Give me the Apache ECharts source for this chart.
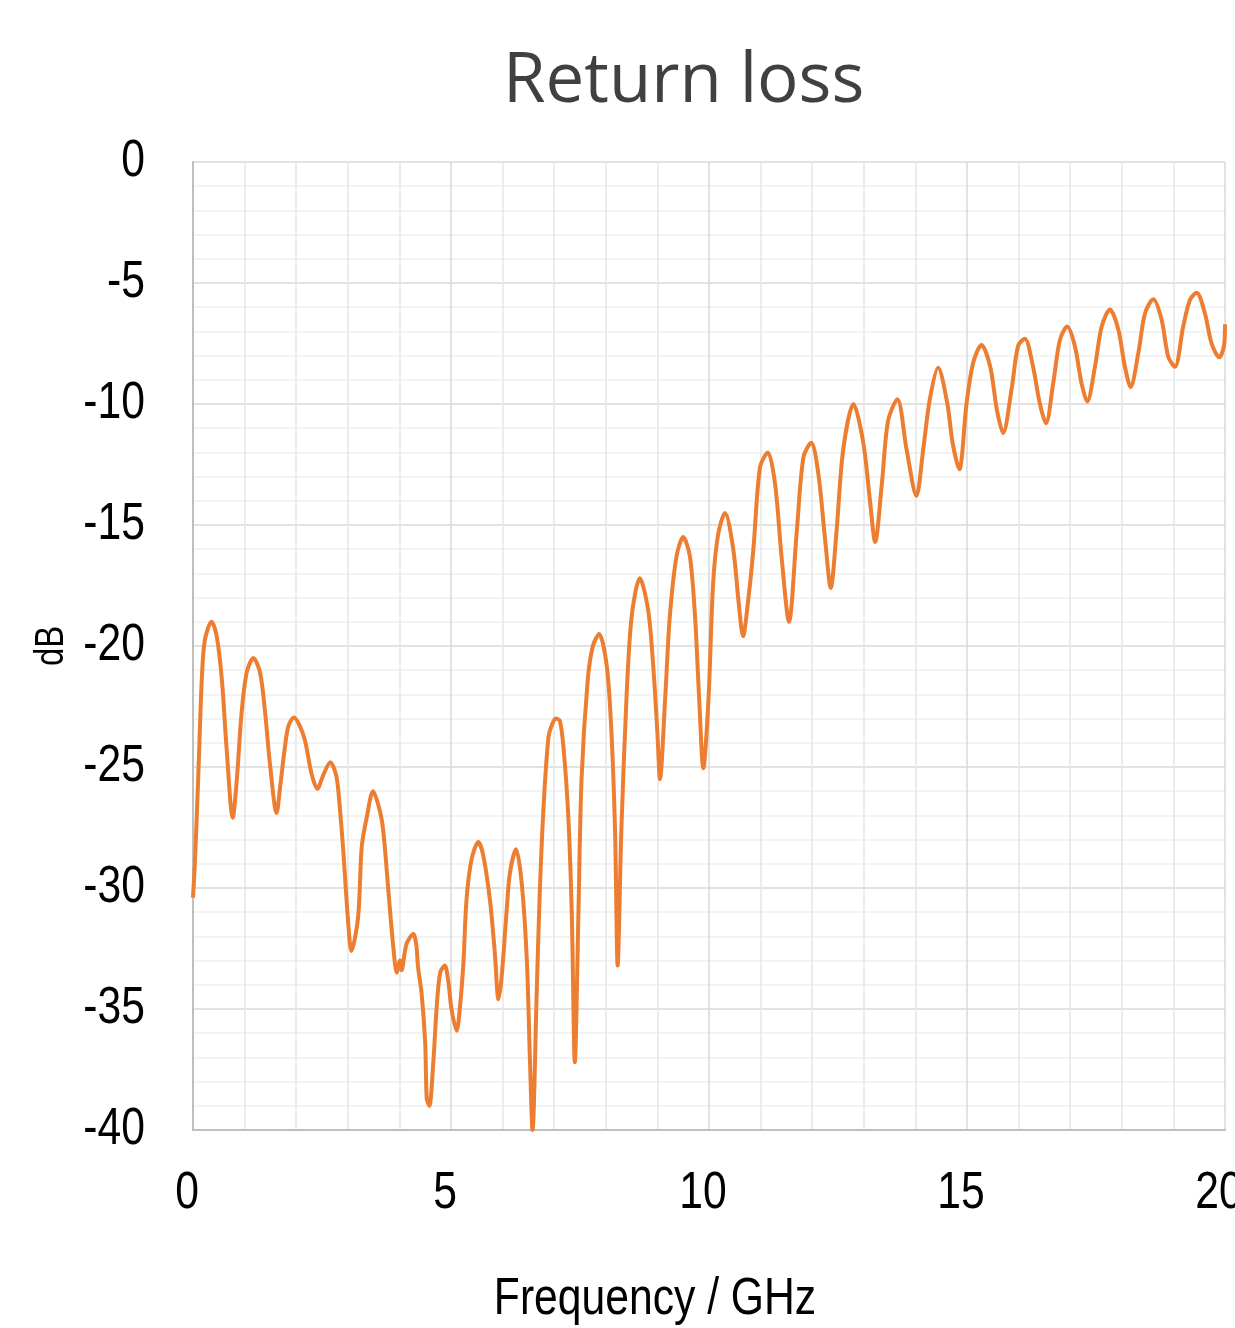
<!DOCTYPE html>
<html>
<head>
<meta charset="utf-8">
<script src="https://cdn.jsdelivr.net/npm/echarts@6/dist/echarts.min.js"></script>
<style>
html,body{margin:0;padding:0;background:#fff;}
#chart{width:1235px;height:1328px;}
</style>
</head>
<body>
<div id="chart"></div>
<script>
// Frequency in GHz
const freq = [
  0.00, 0.04, 0.10, 0.17, 0.23, 0.36, 0.46, 0.56, 0.65, 0.77,
  0.85, 0.94, 1.04, 1.17, 1.30, 1.40, 1.49, 1.62, 1.69, 1.78,
  1.85, 1.96, 2.07, 2.17, 2.30, 2.41, 2.53, 2.66, 2.78, 2.85,
  2.91, 3.01, 3.07, 3.20, 3.27, 3.37, 3.49, 3.62, 3.69, 3.79,
  3.88, 3.95, 4.01, 4.04, 4.14, 4.27, 4.33, 4.36, 4.43, 4.50,
  4.53, 4.58, 4.66, 4.72, 4.79, 4.88, 4.95, 5.01, 5.11, 5.17,
  5.24, 5.30, 5.40, 5.53, 5.63, 5.76, 5.85, 5.92, 5.98, 6.08,
  6.14, 6.26, 6.37, 6.47, 6.53, 6.58, 6.66, 6.72, 6.80, 6.89,
  6.95, 7.03, 7.11, 7.18, 7.27, 7.34, 7.40, 7.47, 7.53, 7.65,
  7.75, 7.87, 8.02, 8.11, 8.18, 8.23, 8.30, 8.40, 8.50, 8.66,
  8.82, 8.92, 9.00, 9.05, 9.15, 9.24, 9.37, 9.50, 9.63, 9.73,
  9.81, 9.89, 9.99, 10.08, 10.18, 10.31, 10.47, 10.57, 10.66, 10.76,
  10.86, 10.99, 11.14, 11.28, 11.41, 11.55, 11.70, 11.83, 11.98, 12.12,
  12.25, 12.36, 12.47, 12.60, 12.80, 12.99, 13.12, 13.22, 13.35, 13.47,
  13.65, 13.83, 14.02, 14.15, 14.28, 14.44, 14.62, 14.72, 14.85, 14.99,
  15.12, 15.28, 15.45, 15.58, 15.70, 15.87, 15.99, 16.12, 16.28, 16.41,
  16.53, 16.67, 16.80, 16.94, 17.09, 17.22, 17.33, 17.48, 17.61, 17.77,
  17.93, 18.06, 18.17, 18.32, 18.45, 18.61, 18.77, 18.90, 19.03, 19.19,
  19.32, 19.45, 19.61, 19.74, 19.89, 19.98, 20.00
];
// Return loss in dB
const returnLoss = [
  -30.4, -28.8, -25.5, -21.4, -19.75, -19.0, -19.6, -21.4, -24.2, -27.1,
  -25.5, -22.8, -21.1, -20.5, -21.1, -22.8, -24.85, -26.9, -25.8, -24.2,
  -23.3, -22.95, -23.3, -23.9, -25.3, -25.9, -25.3, -24.8, -25.4, -26.8,
  -28.4, -31.5, -32.6, -31.2, -28.3, -27.05, -26.0, -26.8, -27.7, -30.2,
  -32.4, -33.5, -33.0, -33.4, -32.3, -31.9, -32.4, -33.25, -34.35, -36.4,
  -38.7, -39.0, -37.1, -35.0, -33.5, -33.2, -33.9, -35.0, -35.9, -35.0,
  -33.1, -30.5, -28.8, -28.1, -28.7, -30.6, -32.7, -34.6, -33.7, -30.9,
  -29.4, -28.4, -29.8, -33.0, -37.1, -40.0, -34.4, -30.2, -26.4, -23.75,
  -23.3, -23.0, -23.1, -24.2, -26.9, -31.0, -37.2, -31.0, -25.5, -21.4,
  -20.0, -19.5, -20.85, -23.6, -27.7, -33.2, -27.7, -22.2, -18.8, -17.2,
  -18.5, -20.85, -23.6, -25.5, -22.2, -18.8, -16.3, -15.5, -16.3, -18.8,
  -22.2, -25.05, -22.2, -17.4, -15.35, -14.5, -16.0, -18.1, -19.6, -18.1,
  -16.0, -12.6, -12.0, -13.3, -16.4, -19.0, -15.3, -12.2, -11.6, -12.9,
  -15.6, -17.6, -15.3, -11.9, -10.0, -11.6, -14.0, -15.7, -13.3, -10.7,
  -9.8, -11.9, -13.8, -11.9, -9.8, -8.5, -10.0, -11.6, -12.7, -10.0,
  -8.3, -7.56, -8.46, -10.25, -11.2, -9.3, -7.6, -7.3, -8.46, -9.97,
  -10.8, -9.15, -7.36, -6.8, -7.6, -9.15, -9.9, -8.46, -6.8, -6.1,
  -6.9, -8.46, -9.3, -7.9, -6.25, -5.67, -6.5, -8.05, -8.46, -6.8,
  -5.7, -5.4, -6.25, -7.5, -8.07, -7.6, -6.7
];
const yTicks = [0, -5, -10, -15, -20, -25, -30, -35, -40];
const xTicks = [0, 5, 10, 15, 20];

// Condense the axis fonts horizontally (the reference uses a narrow sans face).
(function () {
  const proto = CanvasRenderingContext2D.prototype;
  const orig = proto.fillText;
  proto.fillText = function (text, x, y, maxWidth) {
    if (/Liberation Sans/.test(this.font)) {
      this.save();
      this.translate(x, y);
      this.scale(0.82, 1);
      orig.call(this, text, 0, 0);
      this.restore();
    } else if (maxWidth !== undefined) {
      orig.call(this, text, x, y, maxWidth);
    } else {
      orig.call(this, text, x, y);
    }
  };
})();

const seriesData = freq.map((f, i) => [f, returnLoss[i]]);
const narrow = "'Liberation Sans', sans-serif";

const chart = echarts.init(document.getElementById('chart'), null, {renderer: 'canvas'});
chart.setOption({
  animation: false,
  backgroundColor: '#ffffff',
  title: {
    text: 'Return loss',
    left: 498,
    top: 43,
    textStyle: {fontFamily: "'Open Sans', 'Noto Sans', sans-serif", fontSize: 69, fontWeight: 'normal', color: '#404040'}
  },
  grid: {left: 193, right: 10, top: 162, bottom: 198, containLabel: false, outerBoundsMode: 'none'},
  xAxis: {
    type: 'value', min: 0, max: 20, interval: 5,
    name: 'Frequency / GHz', nameLocation: 'middle', nameGap: 144, nameMoveOverlap: false,
    nameTextStyle: {fontFamily: narrow, fontSize: 52, color: '#000', padding: [0, 108, 0, 0]},
    axisLine: {show: true, onZero: false, lineStyle: {color: '#bfbfbf', width: 2}},
    axisTick: {show: false},
    axisLabel: {fontFamily: narrow, fontSize: 52, color: '#000', margin: 38, padding: [0, 12, 0, 0],
      customValues: xTicks},
    splitLine: {show: true, lineStyle: {color: '#d9d9d9', width: 1.5}},
    minorTick: {show: false, splitNumber: 5},
    minorSplitLine: {show: true, lineStyle: {color: '#e6e6e6', width: 1.5}}
  },
  yAxis: {
    type: 'value', min: -40, max: 0, interval: 5,
    name: 'dB', nameLocation: 'middle', nameGap: 121, nameRotate: 90, nameMoveOverlap: false,
    nameTextStyle: {fontFamily: narrow, fontSize: 40, color: '#000'},
    axisLine: {show: true, lineStyle: {color: '#bfbfbf', width: 2}},
    axisTick: {show: false},
    axisLabel: {fontFamily: narrow, fontSize: 52, color: '#000', margin: 48, customValues: yTicks},
    splitLine: {show: true, lineStyle: {color: '#d9d9d9', width: 1.5}},
    minorTick: {show: false, splitNumber: 5},
    minorSplitLine: {show: true, lineStyle: {color: '#f0f0f0', width: 1.5}}
  },
  series: [{
    type: 'line',
    data: seriesData,
    showSymbol: false,
    smooth: 0.3,
    clip: true,
    lineStyle: {color: '#ED7D31', width: 4},
    itemStyle: {color: '#ED7D31'}
  }]
});
</script>
</body>
</html>
